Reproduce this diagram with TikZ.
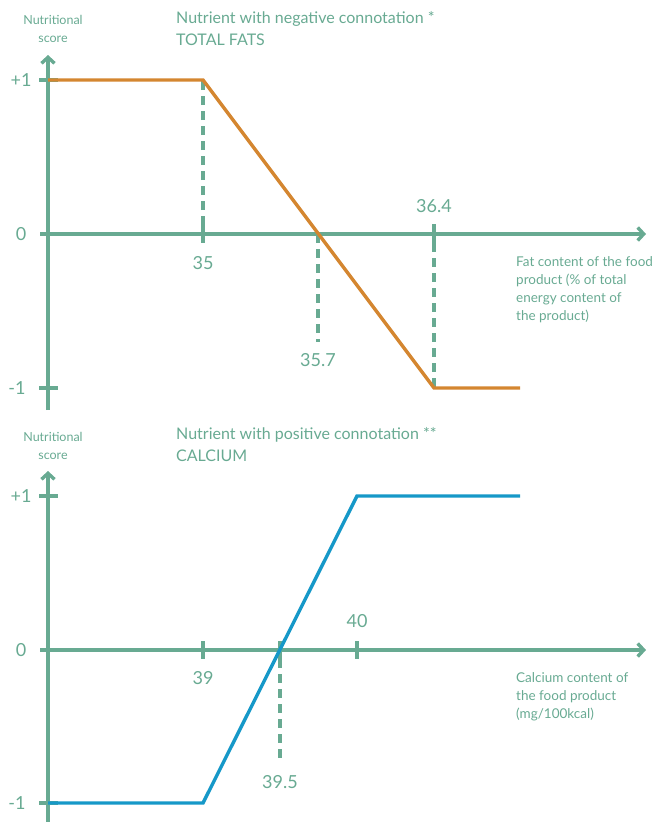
\documentclass[tikz,border=0pt]{standalone}
\usepackage{fontspec}
\setmainfont{Lato}
\usetikzlibrary{arrows.meta}
\definecolor{axisgreen}{RGB}{104,170,146}
\definecolor{fatorange}{RGB}{212,134,48}
\definecolor{calblue}{RGB}{22,152,200}
\tikzset{
  axisline/.style={draw=axisgreen,line width=3.6pt},
  axisarrow/.style={axisline,-{Straight Barb[length=6pt,width=13pt,line width=3.4pt]}},
  tickline/.style={draw=axisgreen,line width=3.4pt},
  guide/.style={draw=axisgreen,line width=3.4pt,dash pattern=on 9pt off 6pt},
  ticklab/.style={text=axisgreen,font=\fontsize{18}{20}\selectfont,inner sep=0pt},
  smalllab/.style={text=axisgreen,font=\fontsize{12.5}{18}\selectfont,align=center,inner sep=0pt},
  titlelab/.style={text=axisgreen,font=\fontsize{16}{22}\selectfont,align=left,inner sep=0pt,anchor=west},
  desclab/.style={text=axisgreen,font=\fontsize{13.5}{18}\selectfont,align=left,inner sep=0pt,anchor=north west},
  fatcurve/.style={draw=fatorange,line width=3.4pt,line join=miter},
  calcurve/.style={draw=calblue,line width=3.4pt,line join=miter}
}
\begin{document}
\begin{tikzpicture}[x=1pt,y=-1pt]
\useasboundingbox (0,0) rectangle (660,822);
% ===== TOP CHART =====
\coordinate (t-yb) at (48,410);
\coordinate (t-yt) at (48,55);
\coordinate (t-xl) at (40,234);
\coordinate (t-xr) at (646,234);
\draw[axisarrow] (t-yb) -- (t-yt);
\draw[axisarrow] (t-xl) -- (t-xr);
% y ticks
\coordinate (t-p1a) at (39,80); \coordinate (t-p1b) at (58,80);
\coordinate (t-m1a) at (39,388); \coordinate (t-m1b) at (58,388);
\draw[tickline] (t-p1a) -- (t-p1b);
\draw[tickline] (t-m1a) -- (t-m1b);
\node[ticklab] (t-lp1) at (21,80) {+1};
\node[ticklab] (t-l0) at (21,234) {0};
\node[ticklab] (t-lm1) at (17,388) {-1};
% x ticks
\coordinate (t-35a) at (203,225); \coordinate (t-35b) at (203,243);
\coordinate (t-35top) at (203,80);
\draw[tickline] (t-35a) -- (t-35b);
\draw[guide] (t-35a) -- (t-35top);
\coordinate (t-357a) at (318,234); \coordinate (t-357b) at (318,342);
\draw[guide] (t-357a) -- (t-357b);
\coordinate (t-364a) at (434,224); \coordinate (t-364b) at (434,243);
\coordinate (t-364bot) at (434,388);
\draw[tickline] (t-364a) -- (t-364b);
\draw[guide] (t-364b) -- (t-364bot);
\node[ticklab] (t-l35) at (203,263) {35};
\node[ticklab] (t-l357) at (318,360) {35.7};
\node[ticklab] (t-l364) at (434,206) {36.4};
% curve
\coordinate (t-c0) at (48,80);
\coordinate (t-c1) at (203,80);
\coordinate (t-c2) at (434,388);
\coordinate (t-c3) at (520,388);
\draw[fatcurve] (t-c0) -- (t-c1) -- (t-c2) -- (t-c3);
% texts
\node[smalllab] (t-ns) at (53,29) {Nutritional\\score};
\node[titlelab] (t-title) at (176,29) {Nutrient with negative connotation *\\TOTAL FATS};
\node[desclab] (t-desc) at (516,256) {Fat content of the food\\product (\% of total\\energy content of\\the product)};
% ===== BOTTOM CHART =====
\coordinate (b-yb) at (48,822);
\coordinate (b-yt) at (48,471);
\coordinate (b-xl) at (40,650);
\coordinate (b-xr) at (646,650);
\draw[axisarrow] (b-yb) -- (b-yt);
\draw[axisarrow] (b-xl) -- (b-xr);
\coordinate (b-p1a) at (39,496); \coordinate (b-p1b) at (58,496);
\coordinate (b-m1a) at (39,803); \coordinate (b-m1b) at (58,803);
\draw[tickline] (b-p1a) -- (b-p1b);
\draw[tickline] (b-m1a) -- (b-m1b);
\node[ticklab] (b-lp1) at (21,496) {+1};
\node[ticklab] (b-l0) at (21,650) {0};
\node[ticklab] (b-lm1) at (17,803) {-1};
\coordinate (b-39a) at (203,641); \coordinate (b-39b) at (203,659);
\draw[tickline] (b-39a) -- (b-39b);
\coordinate (b-395a) at (280,641); \coordinate (b-395b) at (280,659);
\coordinate (b-395bot) at (280,760);
\draw[tickline] (b-395a) -- (b-395b);
\draw[guide] (b-395b) -- (b-395bot);
\coordinate (b-40a) at (357,641); \coordinate (b-40b) at (357,659);
\draw[tickline] (b-40a) -- (b-40b);
\node[ticklab] (b-l39) at (203,678) {39};
\node[ticklab] (b-l395) at (280,782) {39.5};
\node[ticklab] (b-l40) at (357,621) {40};
\coordinate (b-c0) at (48,803);
\coordinate (b-c1) at (203,803);
\coordinate (b-c2) at (357,496);
\coordinate (b-c3) at (520,496);
\draw[calcurve] (b-c0) -- (b-c1) -- (b-c2) -- (b-c3);
\node[smalllab] (b-ns) at (53,446) {Nutritional\\score};
\node[titlelab] (b-title) at (176,445) {Nutrient with positive connotation **\\CALCIUM};
\node[desclab] (b-desc) at (516,672) {Calcium content of\\the food product\\(mg/100kcal)};
\end{tikzpicture}
\end{document}
